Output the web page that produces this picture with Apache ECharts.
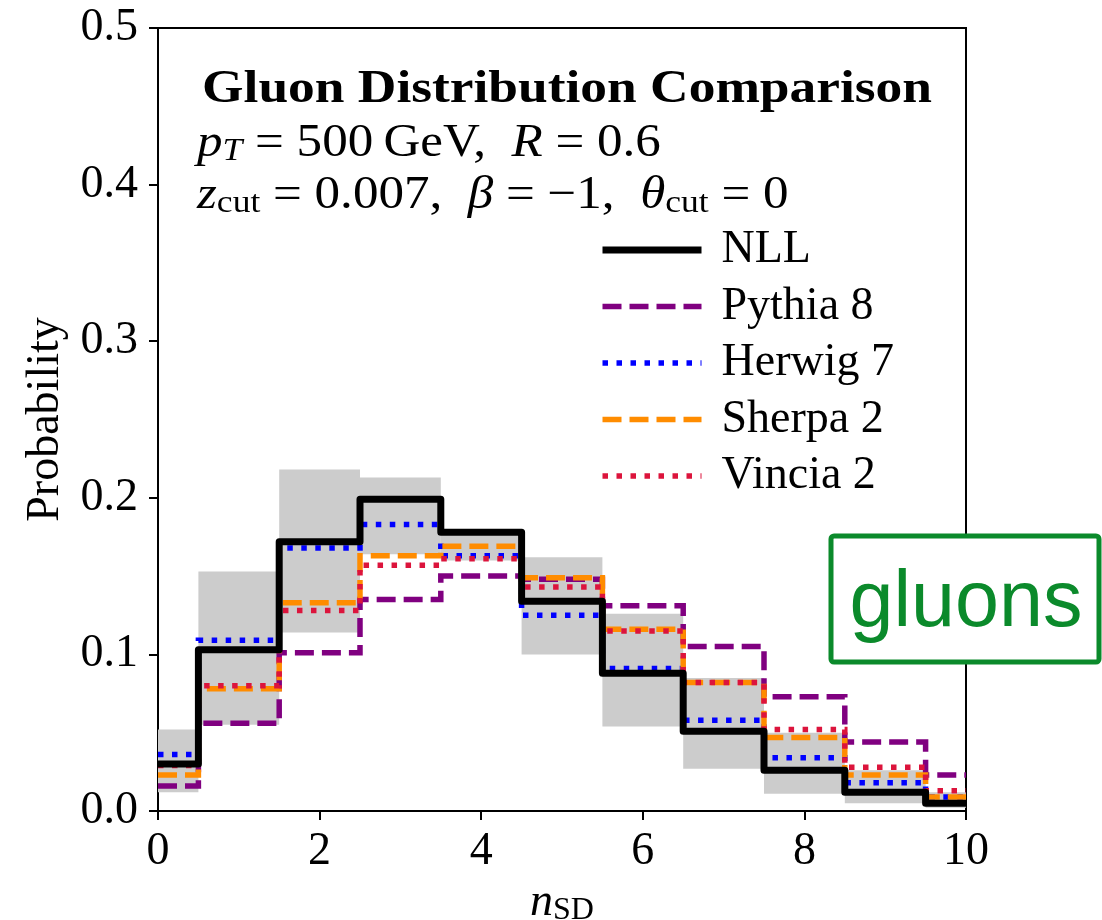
<!DOCTYPE html>
<html>
<head>
<meta charset="utf-8">
<title>Gluon Distribution Comparison</title>
<script src="https://cdn.jsdelivr.net/npm/echarts@6/dist/echarts.min.js"></script>
<style>
  html, body { margin: 0; padding: 0; background: #fff; }
  #chart { width: 1102px; height: 920px; }
</style>
</head>
<body>
<div id="chart"></div>
<script>
// Number of soft-drop emissions (bin centres)
const nSD = [0, 1, 2, 3, 4, 5, 6, 7, 8, 9, 10];

// Probability per bin for each calculation / generator
const nll    = [0.030, 0.103, 0.172, 0.199, 0.178, 0.134, 0.088, 0.051, 0.026, 0.012, 0.005];
const pythia = [0.016, 0.056, 0.101, 0.135, 0.150, 0.148, 0.131, 0.105, 0.073, 0.044, 0.023];
const herwig = [0.036, 0.109, 0.168, 0.183, 0.163, 0.125, 0.091, 0.058, 0.034, 0.018, 0.009];
const sherpa = [0.023, 0.078, 0.133, 0.163, 0.169, 0.149, 0.116, 0.082, 0.047, 0.023, 0.009];
const vincia = [0.029, 0.080, 0.128, 0.157, 0.161, 0.143, 0.115, 0.082, 0.052, 0.028, 0.013];

// NLL uncertainty band (lower / upper edge per bin)
const bandLow  = [0.012, 0.055, 0.114, 0.164, 0.160, 0.100, 0.054, 0.027, 0.011, 0.005, 0.002];
const bandHigh = [0.052, 0.153, 0.218, 0.213, 0.179, 0.162, 0.126, 0.085, 0.050, 0.026, 0.012];

// Axis ticks
const xTicks = [0, 2, 4, 6, 8, 10];
const yTicks = [0.0, 0.1, 0.2, 0.3, 0.4, 0.5];

const SERIF = '"Liberation Serif", "Times New Roman", serif';
const FS = 46;

const chart = echarts.init(document.getElementById('chart'), null, { renderer: 'canvas' });

const xMin = xTicks[0], xMax = xTicks[xTicks.length - 1];
const yMin = yTicks[0], yMax = yTicks[yTicks.length - 1];

function stepData(vals) {
  return nSD.map((n, i) => [n, vals[i]]);
}

function histLine(name, vals, color, width, dash, z) {
  return {
    type: 'line',
    name: name,
    step: 'middle',
    data: stepData(vals),
    symbol: 'none',
    showSymbol: false,
    clip: true,
    z: z,
    lineStyle: {
      color: color,
      width: width,
      type: dash,
      join: dash === 'solid' ? 'round' : 'miter',
      cap: 'butt'
    },
    itemStyle: { color: color },
    emphasis: { disabled: true }
  };
}

const DASH = [19, 8];
const DOT = [5.5, 8.5];

// measure text width so the heading can be fitted to its box
const measureCtx = document.createElement('canvas').getContext('2d');
function textWidth(str, font) {
  measureCtx.font = font;
  return measureCtx.measureText(str).width;
}

const titleText = 'Gluon Distribution Comparison';
const titleFont = 'bold ' + FS + 'px ' + SERIF;
const titleScale = 730 / textWidth(titleText, titleFont);
const mathScale = 1.11;

const mathRich = {
  r:   { fontFamily: SERIF, fontSize: FS, color: '#000', lineHeight: 52 },
  i:   { fontFamily: SERIF, fontSize: FS, fontStyle: 'italic', color: '#000', lineHeight: 52 },
  sub: { fontFamily: SERIF, fontSize: 32, color: '#000', lineHeight: 52, padding: [15, 0, 0, 0] },
  subi:{ fontFamily: SERIF, fontSize: 32, fontStyle: 'italic', color: '#000', lineHeight: 52, padding: [15, 0, 0, 0] }
};

const option = {
  animation: false,
  backgroundColor: '#ffffff',
  grid: {
    left: 158, right: 136, top: 28, bottom: 109,
    containLabel: false,
    outerBoundsMode: 'none',
    show: true, borderColor: '#000', borderWidth: 2, backgroundColor: 'transparent'
  },
  legend: {
    orient: 'vertical',
    left: 594,
    top: 222,
    itemWidth: 99,
    itemHeight: 14,
    itemGap: 10.5,
    selectedMode: false,
    itemStyle: { opacity: 0 },
    lineStyle: { width: 'inherit', type: 'inherit', cap: 'butt' },
    textStyle: { fontFamily: SERIF, fontSize: FS, color: '#000', padding: [0, 0, 0, 15] },
    data: ['NLL', 'Pythia 8', 'Herwig 7', 'Sherpa 2', 'Vincia 2']
  },
  xAxis: {
    type: 'value',
    min: xMin, max: xMax, interval: 2,
    name: '{n|n}{s|SD}',
    nameLocation: 'middle',
    nameGap: 66,
    nameTextStyle: {
      rich: {
        n: { fontFamily: SERIF, fontSize: FS, fontStyle: 'italic', color: '#000', lineHeight: 52 },
        s: { fontFamily: SERIF, fontSize: 32, color: '#000', lineHeight: 52, padding: [15, 0, 0, 0] }
      }
    },
    axisLine: { show: true, onZero: false, lineStyle: { color: '#000', width: 2 } },
    axisTick: { show: true, inside: false, length: 9, lineStyle: { color: '#000', width: 2 } },
    axisLabel: { fontFamily: SERIF, fontSize: FS, color: '#000', margin: 18 },
    splitLine: { show: false }
  },
  yAxis: {
    type: 'value',
    min: yMin, max: yMax, interval: 0.1,
    name: 'Probability',
    nameLocation: 'middle',
    nameGap: 89,
    nameRotate: 90,
    nameTextStyle: { fontFamily: SERIF, fontSize: FS, color: '#000' },
    axisLine: { show: true, onZero: false, lineStyle: { color: '#000', width: 2 } },
    axisTick: { show: true, inside: false, length: 9, lineStyle: { color: '#000', width: 2 } },
    axisLabel: {
      fontFamily: SERIF, fontSize: FS, color: '#000', margin: 20,
      formatter: v => v.toFixed(1)
    },
    splitLine: { show: false }
  },
  series: [
    {
      type: 'custom',
      name: 'NLL band',
      z: 1,
      silent: true,
      clip: true,
      data: nSD.map((n, i) => [n, bandLow[i], bandHigh[i]]),
      encode: { x: 0, y: [1, 2] },
      renderItem: function (params, api) {
        const x = api.value(0);
        const lo = api.value(1);
        const hi = api.value(2);
        const x0 = Math.max(x - 0.5, xMin);
        const x1 = Math.min(x + 0.5, xMax);
        const pTop = api.coord([x0, hi]);
        const pBot = api.coord([x1, lo]);
        return {
          type: 'rect',
          shape: { x: pTop[0], y: pTop[1], width: pBot[0] - pTop[0], height: pBot[1] - pTop[1] },
          style: { fill: '#cccccc' }
        };
      }
    },
    histLine('Pythia 8', pythia, '#800080', 5.5, DASH, 2),
    histLine('Herwig 7', herwig, '#0000ff', 5.5, DOT, 3),
    histLine('Sherpa 2', sherpa, '#ff8c00', 5.5, DASH, 4),
    histLine('Vincia 2', vincia, '#dc143c', 5.5, DOT, 5),
    histLine('NLL', nll, '#000000', 7, 'solid', 6)
  ],
  graphic: [
    {
      type: 'text',
      x: 202, y: 90,
      scaleX: titleScale,
      z: 20,
      style: {
        text: titleText,
        font: titleFont,
        fill: '#000',
        verticalAlign: 'middle',
        align: 'left'
      }
    },
    {
      type: 'text',
      x: 197, y: 144,
      scaleX: mathScale,
      z: 20,
      style: {
        text: '{i|p}{subi|T}{r| = 500\u2009GeV,  }{i|R}{r| = 0.6}',
        rich: mathRich,
        verticalAlign: 'middle',
        align: 'left'
      }
    },
    {
      type: 'text',
      x: 197, y: 196,
      scaleX: mathScale,
      z: 20,
      style: {
        text: '{i|z}{sub|cut}{r| = 0.007,  }{i|\u03b2}{r| = \u22121,  }{i|\u03b8}{sub|cut}{r| = 0}',
        rich: mathRich,
        verticalAlign: 'middle',
        align: 'left'
      }
    },
    {
      type: 'group',
      z: 30,
      children: [
        {
          type: 'rect',
          shape: { x: 831, y: 536, width: 268, height: 126, r: 3 },
          style: { fill: '#ffffff', stroke: '#0b8a2b', lineWidth: 5, lineJoin: 'round' }
        },
        {
          type: 'text',
          x: 966, y: 604,
          style: {
            text: 'gluons',
            font: '79px "Liberation Sans", Arial, sans-serif',
            fill: '#0b8a2b',
            align: 'center',
            verticalAlign: 'middle'
          }
        }
      ]
    }
  ]
};

chart.setOption(option);
</script>
</body>
</html>
